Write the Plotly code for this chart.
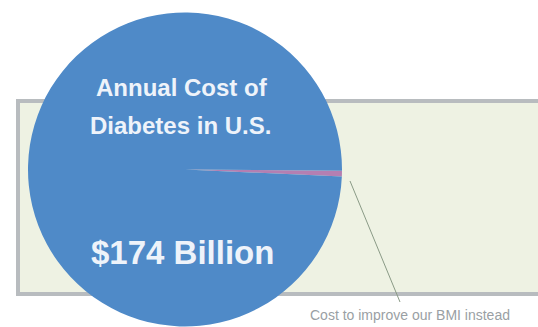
import plotly.graph_objects as go

W, H = 538, 327

labels = ["Cost to improve our BMI instead", "Annual Cost of Diabetes in U.S."]
values = [1.0, 174]
slice_colors = ["#b47fb2", "#4f8ac8"]
title_lines = ["Annual Cost of", "Diabetes in U.S."]
big_label = "$174 Billion"
note_text = "Cost to improve our BMI instead"


def px(x):
    return x / W


def py(y):
    return 1 - y / H


total = sum(values)
thin_angle = values[0] / total * 360

fig = go.Figure()
fig.add_trace(go.Pie(
    labels=labels,
    values=values,
    sort=False,
    direction="clockwise",
    rotation=90 - thin_angle / 2 + 1.5,
    marker=dict(colors=slice_colors, line=dict(width=0)),
    textinfo="none",
    hoverinfo="label+value",
    showlegend=False,
    domain=dict(x=[px(28), px(342)], y=[0, py(12)]),
))

# background panel
fig.add_shape(type="rect", xref="paper", yref="paper",
              x0=px(18), x1=px(560), y0=py(294), y1=py(101),
              line=dict(color="#b8bcbf", width=4), fillcolor="#eef2e3",
              layer="below")

# leader line
fig.add_shape(type="line", xref="paper", yref="paper",
              x0=px(350), y0=py(181), x1=px(400), y1=py(302),
              line=dict(color="#8a9a86", width=1))

FONT = "Liberation Sans, Arial"
fig.add_annotation(text="<b>%s</b>" % title_lines[0], x=px(182), y=py(88), xref="paper", yref="paper",
                   showarrow=False, font=dict(family=FONT, size=24, color="#eef3fa"),
                   xanchor="center", yanchor="middle")
fig.add_annotation(text="<b>%s</b>" % title_lines[1], x=px(181), y=py(125), xref="paper", yref="paper",
                   showarrow=False, font=dict(family=FONT, size=24, color="#eef3fa"),
                   xanchor="center", yanchor="middle")
fig.add_annotation(text="<b>%s</b>" % big_label, x=px(182), y=py(253), xref="paper", yref="paper",
                   showarrow=False, font=dict(family=FONT, size=33, color="#eef3fa"),
                   xanchor="center", yanchor="middle")
fig.add_annotation(text=note_text, x=px(410), y=py(315), xref="paper", yref="paper",
                   showarrow=False, font=dict(family=FONT, size=14, color="#9a9fa4"),
                   xanchor="center", yanchor="middle")

fig.update_layout(
    width=W, height=H,
    margin=dict(l=0, r=0, t=0, b=0),
    paper_bgcolor="#ffffff",
    plot_bgcolor="#ffffff",
)

fig.write_html("out.html")
